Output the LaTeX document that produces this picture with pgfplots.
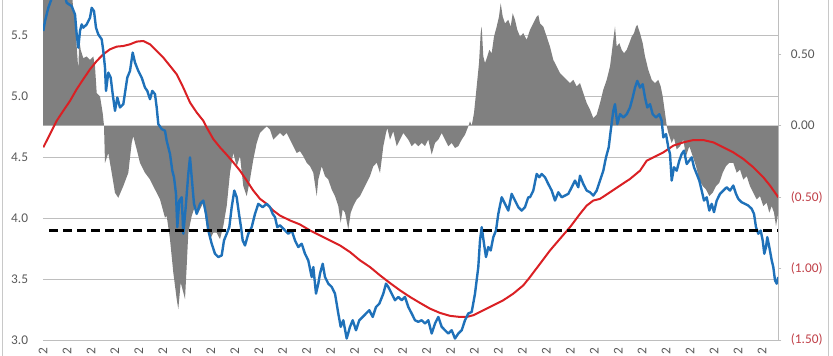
\documentclass[border=0pt]{standalone}
\usepackage{fontspec}
\setmainfont{Carlito}
\usepackage{pgfplots}
\usepackage{pgfplotstable}
\pgfplotsset{compat=1.18}
\definecolor{bluel}{RGB}{31,113,185}
\definecolor{redl}{RGB}{218,32,36}
\definecolor{areagray}{RGB}{128,128,128}
\definecolor{gridgray}{RGB}{190,190,190}
\definecolor{labgray}{RGB}{89,89,89}
\definecolor{negred}{RGB}{192,64,72}
\definecolor{bordergray}{RGB}{200,200,200}

\pgfplotstableread{
x v
43.3 5.533
45 5.614
48.3 5.723
51.7 5.80
55 5.85
60 5.88
65 5.82
66.7 5.764
71.7 5.737
75 5.669
76.7 5.505
78.3 5.396
80 5.533
81.7 5.587
83.3 5.560
86.7 5.587
90 5.642
91.7 5.723
94 5.696
96 5.560
98.3 5.505
101.7 5.465
103.3 5.369
105 5.233
106 5.042
108.3 5.192
110.7 5.151
112.7 5.015
115 4.879
117.3 4.988
120 4.906
123.3 4.933
127.3 5.151
130 5.206
132.7 5.356
135 5.274
138.3 5.206
141.7 5.151
145 5.069
147.3 5.042
150 4.974
152.3 5.042
155 5.015
156.7 4.906
158.3 4.770
161.7 4.729
165 4.715
166.7 4.633
170 4.525
172.3 4.388
174 4.334
176 4.198
177.3 3.925
179.3 4.143
181.7 4.170
183.3 3.871
185.7 4.089
188.3 4.361
190 4.497
191.7 4.334
194 4.116
196.7 4.034
200 4.116
203.3 4.143
206 4.034
208.3 3.898
211.7 3.789
215 3.707
218.3 3.680
221.7 3.693
224 3.816
226.7 3.871
229.3 3.925
231.7 4.089
234.3 4.225
236.7 4.170
239 4.034
241 3.925
242.7 3.816
245 3.775
248.3 3.871
251.7 3.925
255 4.034
258.3 4.116
262.7 4.089
266.7 4.116
270 4.089
272.7 4.034
275 4.007
277.3 3.925
280 3.940
285 3.898
288.3 3.871
291.7 3.898
295 3.816
298.3 3.762
301.7 3.789
305 3.707
308.3 3.652
311.7 3.516
313.3 3.598
316 3.380
318.3 3.462
320 3.544
322.7 3.625
325 3.516
328.3 3.462
331.7 3.435
335 3.380
338.3 3.217
340.7 3.108
343.3 3.162
346.7 3.012
350 3.108
352.7 3.162
356 3.080
359.3 3.162
362.7 3.189
366 3.217
369.3 3.244
372.7 3.189
376 3.271
379.3 3.298
383.3 3.380
386 3.462
388.3 3.435
391.7 3.380
395 3.326
398.3 3.353
401.7 3.326
405 3.353
408.3 3.271
411.7 3.217
415 3.162
418.3 3.149
421.7 3.162
425 3.135
428.3 3.162
431.7 3.053
435 3.135
438.3 3.189
441.7 3.108
445 3.080
448.3 3.053
451.7 3.080
455 3.012
458.3 3.053
461.7 3.080
465 3.162
468.3 3.217
471.7 3.230
475 3.380
478.3 3.598
480 3.816
481.7 3.925
484 3.789
486 3.680
488.3 3.762
490.7 3.734
493.3 3.843
496 3.898
498.3 4.034
501.7 4.170
505 4.116
508.3 4.061
511.7 4.198
515 4.143
518.3 4.089
521.7 4.061
525 4.089
528.3 4.170
530 4.170
533.3 4.225
536.7 4.361
539.3 4.334
541.7 4.361
545 4.334
548.3 4.279
551.7 4.225
555 4.143
558.3 4.211
561.7 4.170
565 4.184
568.3 4.198
571.7 4.252
575 4.307
578.3 4.252
580 4.347
583.3 4.279
586.7 4.225
590 4.211
593.3 4.184
596.7 4.225
600 4.307
603.3 4.388
606 4.497
608.7 4.579
610.7 4.715
613.3 4.879
615 4.933
617.3 4.770
620 4.851
623.3 4.824
626.7 4.851
630 4.906
632.7 4.988
635 5.069
637.3 5.124
640 5.069
642.7 5.097
645 4.988
647.3 4.906
650 4.933
652.7 4.851
656 4.824
659.3 4.851
661.7 4.797
663.3 4.661
666 4.688
668.3 4.579
670 4.525
671.7 4.307
674 4.416
676.7 4.388
679.3 4.470
681.7 4.525
684 4.552
686.7 4.443
689.3 4.470
691.7 4.497
694 4.416
696.7 4.361
699.3 4.307
701.7 4.225
704 4.143
706.7 4.170
709.3 4.061
711.7 4.116
714 4.048
716.7 4.143
720 4.198
723.3 4.225
726.7 4.252
730 4.225
733.3 4.266
736 4.198
738.3 4.157
741.7 4.129
745 4.116
748.3 4.102
751.7 4.075
754 4.034
756 3.925
758.3 3.871
760.7 3.898
762.7 3.816
764.3 3.707
766 3.762
767.3 3.843
769.3 3.762
771.7 3.653
773.3 3.598
775 3.489
776.7 3.462
778.3 3.516
}\bluedata

\pgfplotstableread{
x v
43.3 4.579
50 4.688
56.7 4.797
63.3 4.879
70 4.960
76.7 5.056
83.3 5.138
90 5.219
96.7 5.287
103.3 5.342
110 5.383
116.7 5.405
123.3 5.410
130 5.424
136.7 5.446
143.3 5.451
150 5.424
156.7 5.369
163.3 5.315
170 5.247
176.7 5.178
183.3 5.069
190 4.947
196.7 4.865
203.3 4.797
206.7 4.742
213.3 4.647
220 4.579
226.7 4.519
233.3 4.456
240 4.388
246.7 4.307
253.3 4.225
260 4.157
266.7 4.116
273.3 4.061
280 4.020
290 3.980
300 3.947
310 3.898
320 3.857
330 3.816
340 3.775
350 3.721
360 3.653
370 3.598
380 3.530
390 3.467
400 3.407
410 3.353
420 3.304
430 3.257
440 3.222
450 3.198
460 3.189
466.7 3.189
473.3 3.203
483.3 3.244
493.3 3.285
503.3 3.326
513.3 3.380
523.3 3.448
530 3.516
540 3.625
550 3.734
560 3.830
570 3.925
580 4.034
586.7 4.102
593.3 4.143
600 4.157
610 4.211
620 4.266
630 4.320
640 4.388
646.7 4.470
653.3 4.497
663.3 4.538
673.3 4.593
683.3 4.620
693.3 4.639
703.3 4.639
713.3 4.620
723.3 4.579
733.3 4.538
743.3 4.484
753.3 4.416
763.3 4.334
770 4.266
778.3 4.170
}\reddata

\pgfplotstableread{
x v
43 0
43 0.95
56.7 0.95
71.7 0.95
73.3 0.809
75 0.740
76.7 0.553
78.3 0.391
79.3 0.60
80.7 0.530
83.3 0.472
86.7 0.484
90 0.460
93.3 0.484
95 0.414
96.7 0.228
100 0.205
102.7 0.088
104 0
105 -0.260
108.3 -0.191
111.7 -0.330
115 -0.470
118.3 -0.505
123.3 -0.423
128.3 -0.330
131.7 -0.12
133.3 -0.074
136.7 -0.167
140 -0.260
145 -0.330
150 -0.377
155 -0.447
160 -0.516
165 -0.644
166.7 -0.633
170 -0.795
173.3 -1.028
176.7 -1.214
178.3 -1.284
180.7 -1.098
183.3 -1.167
185 -1.214
186.7 -0.981
188.3 -0.749
191.7 -0.633
195 -0.563
198.3 -0.609
203.3 -0.540
206.7 -0.702
210 -0.795
213.3 -0.749
216.7 -0.749
220 -0.795
223.3 -0.702
226.7 -0.563
230 -0.330
233.3 -0.191
236.7 -0.284
240 -0.214
243.3 -0.423
246.7 -0.493
250 -0.377
253.3 -0.237
256.7 -0.121
260 -0.051
263.3 -0.028
266.7 -0.005
270 -0.028
273.3 -0.098
280 -0.051
283.3 -0.074
286.7 -0.051
290 -0.098
293.3 -0.144
296.7 -0.191
300 -0.179
303.3 -0.214
306.7 -0.260
310 -0.284
313.3 -0.330
316.7 -0.493
318.3 -0.377
321.7 -0.284
325 -0.353
328.3 -0.377
331.7 -0.447
335 -0.493
338.3 -0.563
340.7 -0.679
342.7 -0.586
345 -0.609
348.3 -0.726
350.7 -0.609
353.3 -0.563
356.7 -0.516
360 -0.493
363.3 -0.447
366.7 -0.400
370 -0.353
373.3 -0.284
376.7 -0.260
380 -0.330
381.7 -0.237
383.3 -0.144
386 -0.051
387.3 -0.016
390 -0.098
393.3 -0.040
396.7 -0.144
400 -0.098
403.3 -0.051
408.3 -0.098
411.7 -0.144
415 -0.121
418.3 -0.144
421.7 -0.121
425 -0.144
428.3 -0.098
431.7 -0.202
435 -0.121
438.3 -0.098
441.7 -0.051
445 -0.098
448.3 -0.144
451.7 -0.121
455 -0.156
458.3 -0.144
461.7 -0.098
465 -0.063
468.3 -0.005
470 0.030
471.7 0
474 0.088
476.7 0.274
479 0.437
480.7 0.647
481.7 0.693
483.3 0.484
485 0.437
487.3 0.484
489.3 0.530
491.7 0.507
494 0.623
496.7 0.693
499 0.763
500.7 0.856
502.7 0.763
505 0.716
508.3 0.740
510.7 0.693
512.7 0.786
515 0.740
517.3 0.670
520 0.623
523.3 0.647
526.7 0.600
530 0.670
533.3 0.716
536.7 0.763
538.3 0.774
540 0.716
543.3 0.693
546.7 0.623
550 0.553
553.3 0.460
556.7 0.414
560 0.367
563.3 0.344
566.7 0.321
570 0.298
573.3 0.321
576.7 0.274
580 0.298
583.3 0.228
586.7 0.158
590 0.112
593.3 0.053
596.7 0.077
600 0.158
603.3 0.251
606.7 0.321
610 0.414
611.7 0.507
613.3 0.600
615 0.693
616.7 0.553
619.3 0.577
621.7 0.530
624 0.507
626.7 0.530
629.3 0.577
631.7 0.623
634 0.647
636 0.693
637.3 0.705
640 0.647
642.7 0.577
645 0.484
648.3 0.391
651.7 0.321
655 0.298
658.3 0.321
660.7 0.274
662.7 0.205
665 0.088
666.7 0
668.3 -0.051
671.7 -0.121
674 -0.086
676.7 -0.167
680 -0.144
683.3 -0.098
686 -0.214
689.3 -0.144
692.7 -0.214
696 -0.284
699.3 -0.377
702.7 -0.423
706 -0.447
709.3 -0.493
712.7 -0.470
716 -0.423
719.3 -0.400
722.7 -0.330
726 -0.284
729.3 -0.260
733.3 -0.260
736.7 -0.330
740 -0.307
743.3 -0.377
746.7 -0.353
750 -0.423
753.3 -0.470
756.7 -0.516
760 -0.493
763.3 -0.563
766.7 -0.540
769.3 -0.609
771.7 -0.563
774 -0.609
776 -0.702
778.3 -0.609
778.3 0
}\graydata

\pgfplotsset{
  base/.style={
    width=551.25pt, height=255pt, scale only axis,
    xmin=43, xmax=778,
    at={(0pt,0pt)}, anchor=south west,
    ticklabel style={font=\fontsize{10}{12}\selectfont, text=labgray},
  },
}

\begin{document}
\begin{tikzpicture}
% left axis: grid, left labels, x labels
\begin{axis}[base,
  ymin=3, ymax=5.787,
  axis line style={draw=none},
  major tick length=0pt,
  ytick={3,3.5,4,4.5,5,5.5},
  yticklabels={3.0,3.5,4.0,4.5,5.0,5.5},
  yticklabel style={inner sep=0pt, xshift=-11pt},
  ymajorgrids, grid style={gridgray, line width=0.7pt},
  xtick={43,66.97,90.93,114.9,138.87,162.83,186.8,210.77,234.73,258.7,282.67,306.63,330.6,354.57,378.53,402.5,426.47,450.43,474.4,498.37,522.33,546.3,570.27,594.23,618.2,642.17,666.13,690.1,714.07,738.03,762},
  xticklabel={2},
  xticklabel style={rotate=90, anchor=east, inner sep=0pt},
  xticklabel shift=5.5pt,
]
\end{axis}
% right axis: gray area
\begin{axis}[base,
  ymin=-1.5, ymax=0.879,
  axis x line=none,
  axis y line*=right,
  axis line style={draw=gridgray, line width=0.7pt},
  tick align=outside, major tick length=2.5pt,
  ytick style={draw=gridgray, line width=0.7pt},
  ytick={-1.5,-1,-0.5,0,0.5},
  yticklabels={{\textcolor{negred}{(1.50)}},{\textcolor{negred}{(1.00)}},{\textcolor{negred}{(0.50)}},0.00,0.50},
  yticklabel style={inner sep=0pt, xshift=7pt},
]
\addplot[fill=areagray, draw=none] table[x=x,y=v] {\graydata};
\end{axis}
% left scale: lines
\begin{axis}[base,
  ymin=3, ymax=5.787,
  hide axis,
]
\addplot[redl, line width=1.5pt, line join=round] table[x=x,y=v] {\reddata};
\addplot[bluel, line width=1.8pt, line join=round] table[x=x,y=v] {\bluedata};
\addplot[black, line width=2.2pt, dash pattern=on 6.5pt off 4pt] coordinates {(49,3.9) (778,3.9)};
\end{axis}
\draw[bordergray, line width=0.75pt] (-30.75pt,-20pt) -- (-30.75pt,270pt);
\draw[bordergray, line width=0.75pt] (588.75pt,-20pt) -- (588.75pt,270pt);
\pgfresetboundingbox
\useasboundingbox (-32.25pt,-11.25pt) rectangle (592.5pt,255pt);
\end{tikzpicture}
\end{document}
